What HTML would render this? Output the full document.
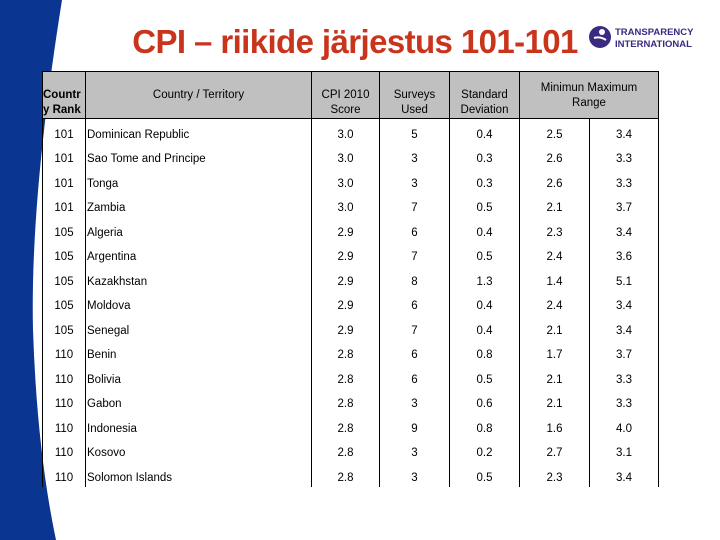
<!DOCTYPE html>
<html><head><meta charset="utf-8"><style>
body{margin:0;width:720px;height:540px;background:#fff;position:relative;overflow:hidden;font-family:"Liberation Sans",Arial,sans-serif}
#title{position:absolute;left:90px;width:530px;top:23px;text-align:center;color:#c8341c;font-weight:bold;font-size:33px;letter-spacing:-0.6px;line-height:38px}
#logo{position:absolute;left:588px;top:24px}
#tbl{position:absolute;left:42px;top:71px;border-collapse:collapse;font-size:11.5px;color:#000}
#tbl td{padding:9.5px 0 0 0;height:15px;line-height:13px;vertical-align:top;border-left:1px solid #000;border-right:1px solid #000;text-align:center;font-weight:normal}
#tbl thead th{background:#c0c0c0;border:1px solid #000;padding:0;font-weight:normal;font-size:11.5px}
#tbl thead th div{height:46px;position:relative;line-height:15px}
#tbl td.c{text-align:left;padding-left:1px}
.b{position:absolute;left:0;right:0;bottom:0px}
.t{position:absolute;left:0;right:0;top:2px}
</style></head><body>
<svg width="720" height="540" style="position:absolute;left:0;top:0">
<path d="M0 0 L62 0 Q30 200 33 330 Q37 450 56 540 L0 540 Z" fill="#0a3590"/>
</svg>
<div id="title">CPI – riikide järjestus 101-101</div>
<div id="logo">
<svg width="115" height="26"><circle cx="12" cy="13" r="11" fill="#3b2a80"/><circle cx="14" cy="8" r="3" fill="#fff"/><path d="M6 14 Q12 12 18 16" stroke="#fff" stroke-width="2" fill="none"/>
<text x="27" y="11" font-family="Liberation Sans" font-weight="bold" font-size="9.5" fill="#3b2a80">TRANSPARENCY</text>
<text x="27" y="23" font-family="Liberation Sans" font-weight="bold" font-size="9.5" fill="#3b2a80">INTERNATIONAL</text></svg></div>
<table id="tbl">
<colgroup><col style="width:43px"><col style="width:226px"><col style="width:68px"><col style="width:70px"><col style="width:70px"><col style="width:70px"><col style="width:69px"></colgroup>
<thead><tr>
<th><div><span class="b" style="text-align:left;font-weight:bold">Countr<br>y Rank</span></div></th>
<th><div><span class="t" style="top:16px">Country / Territory</span></div></th>
<th><div><span class="b">CPI 2010<br>Score</span></div></th>
<th><div><span class="b">Surveys<br>Used</span></div></th>
<th><div><span class="b">Standard<br>Deviation</span></div></th>
<th colspan="2"><div><span class="t" style="top:9px">Minimun Maximum<br>Range</span></div></th>
</tr></thead>
<tbody id="body"></tbody></table>
<script>
const ranks=[101,101,101,101,105,105,105,105,105,110,110,110,110,110,110];
const countries=["Dominican Republic","Sao Tome and Principe","Tonga","Zambia","Algeria","Argentina","Kazakhstan","Moldova","Senegal","Benin","Bolivia","Gabon","Indonesia","Kosovo","Solomon Islands"];
const scores=["3.0","3.0","3.0","3.0","2.9","2.9","2.9","2.9","2.9","2.8","2.8","2.8","2.8","2.8","2.8"];
const surveys=[5,3,3,7,6,7,8,6,7,6,6,3,9,3,3];
const stddevs=["0.4","0.3","0.3","0.5","0.4","0.5","1.3","0.4","0.4","0.8","0.5","0.6","0.8","0.2","0.5"];
const mins=["2.5","2.6","2.6","2.1","2.3","2.4","1.4","2.4","2.1","1.7","2.1","2.1","1.6","2.7","2.3"];
const maxs=["3.4","3.3","3.3","3.7","3.4","3.6","5.1","3.4","3.4","3.7","3.3","3.3","4.0","3.1","3.4"];
const tb=document.getElementById('body');
const names=['rank','country','score','surveys','stddev','min','max'];
countries.forEach((c,i)=>{
 const tr=document.createElement('tr');
 
 
 const vals=[ranks[i],c,scores[i],surveys[i],stddevs[i],mins[i],maxs[i]];
 vals.forEach((v,j)=>{const td=document.createElement('td');td.textContent=v;
 
 
 if(j==1)td.className='c';tr.appendChild(td);});
 tb.appendChild(tr);
});
</script>
</body></html>
